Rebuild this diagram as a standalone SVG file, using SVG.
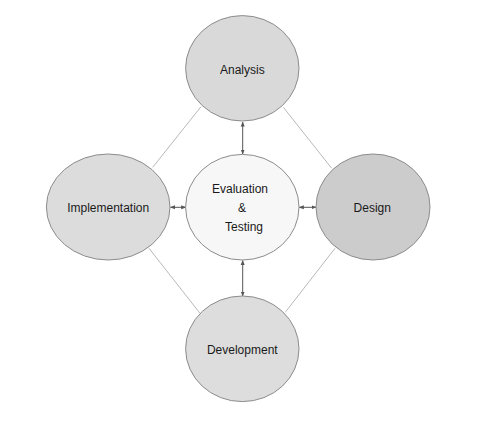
<svg xmlns="http://www.w3.org/2000/svg" width="489" height="422" viewBox="0 0 489 422">
<defs>
<style>
.node{stroke:#8c8c8c;stroke-width:1}
.lbl{font-family:"Liberation Sans",Arial,sans-serif;font-size:12px;fill:#1a1a1a;text-anchor:middle}
.link{stroke:#a6a6a6;stroke-width:0.8;fill:none}
.arr{stroke:#555;stroke-width:1;fill:none;marker-start:url(#ah);marker-end:url(#ah)}
</style>
<marker id="ah" viewBox="0 0 10 10" refX="9" refY="5" markerWidth="5" markerHeight="5" orient="auto-start-reverse" markerUnits="userSpaceOnUse">
<path d="M0,1 L10,5 L0,9 z" fill="#555"/>
</marker>
</defs>
<rect width="489" height="422" fill="#fff"/>
<g id="connectors">
<line class="link" x1="201" y1="106.7" x2="152.7" y2="167.3"/>
<line class="link" x1="283.3" y1="107.3" x2="331.7" y2="168.3"/>
<line class="link" x1="149" y1="248.3" x2="200" y2="313.3"/>
<line class="link" x1="335" y1="248.3" x2="285.7" y2="311.7"/>
<line class="arr" x1="242.7" y1="122" x2="242.7" y2="154"/>
<line class="arr" x1="242.7" y1="260.5" x2="242.7" y2="296"/>
<line class="arr" x1="170.5" y1="207.3" x2="185.7" y2="207.3"/>
<line class="arr" x1="299.3" y1="207.3" x2="316" y2="207.3"/>
</g>
<g id="analysis">
<ellipse class="node" cx="242.3" cy="68.3" rx="56.7" ry="52.7" fill="#d9d9d9"/>
<text class="lbl" x="242.3" y="73.5">Analysis</text>
</g>
<g id="implementation">
<ellipse class="node" cx="108.2" cy="207" rx="61.8" ry="53" fill="#dcdcdc"/>
<text class="lbl" x="108.2" y="211.5">Implementation</text>
</g>
<g id="evaluation">
<ellipse class="node" cx="242.3" cy="207.2" rx="56.7" ry="52.8" fill="#f7f7f7"/>
<text class="lbl" x="240" y="193.2">Evaluation</text>
<text class="lbl" x="242" y="211.5">&amp;</text>
<text class="lbl" x="244" y="231">Testing</text>
</g>
<g id="design">
<ellipse class="node" cx="373" cy="207" rx="57" ry="53" fill="#cccccc"/>
<text class="lbl" x="372.3" y="211.5">Design</text>
</g>
<g id="development">
<ellipse class="node" cx="242.3" cy="348.8" rx="56.7" ry="52.8" fill="#dddddd"/>
<text class="lbl" x="242.3" y="353.5">Development</text>
</g>
</svg>
